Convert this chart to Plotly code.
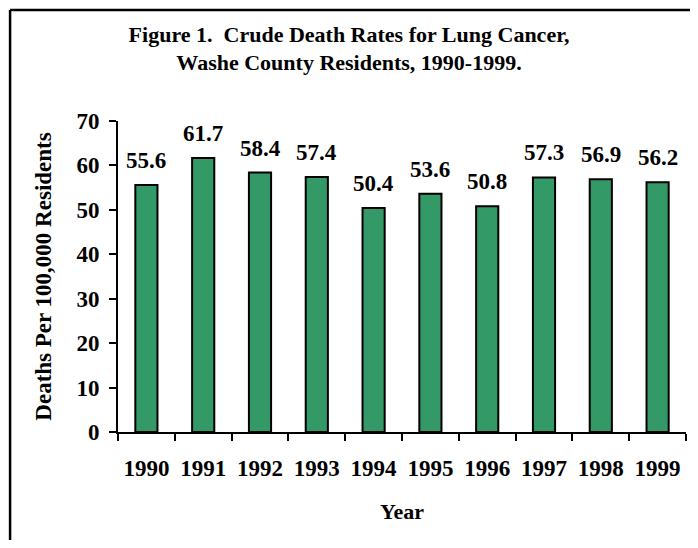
# Crude death rates for lung cancer, Washoe County, 1990-1999
import plotly.graph_objects as go

years = ["1990", "1991", "1992", "1993", "1994", "1995", "1996", "1997", "1998", "1999"]
rates = [55.6, 61.7, 58.4, 57.4, 50.4, 53.6, 50.8, 57.3, 56.9, 56.2]

font_family = "Liberation Serif, Times New Roman, serif"
bar_green = "#339966"
fsize = 23

fig = go.Figure()
fig.add_trace(
    go.Bar(
        x=years,
        y=rates,
        width=0.39,
        marker=dict(color=bar_green, line=dict(color="black", width=2)),
        hoverinfo="x+y",
    )
)

# value labels above each bar (category axis -> index positions)
for i, v in enumerate(rates):
    fig.add_annotation(
        x=i, y=v, xref="x", yref="y", text=f"<b>{v:.1f}</b>",
        showarrow=False, yanchor="bottom", yshift=10,
        font=dict(family=font_family, size=fsize, color="black"),
    )

# frame (only top and left edges show in the window)
fig.add_shape(type="line", xref="paper", yref="paper",
              x0=-0.19, x1=1.2, y0=1.357, y1=1.357,
              line=dict(color="black", width=2.5))
fig.add_shape(type="line", xref="paper", yref="paper",
              x0=-0.19, x1=-0.19, y0=1.357, y1=-0.6,
              line=dict(color="black", width=2.5))

fig.update_layout(
    width=682,
    height=532,
    margin=dict(l=110, r=4, t=113, b=108),
    paper_bgcolor="white",
    plot_bgcolor="white",
    showlegend=False,
    font=dict(family=font_family, color="black", size=fsize),
    title=dict(
        text="<b>Figure 1.  Crude Death Rates for Lung Cancer,<br>Washe County Residents, 1990-1999.</b>",
        x=0.5, xanchor="center", y=0.937, yanchor="middle",
        font=dict(family=font_family, size=22, color="black"),
    ),
    xaxis=dict(
        type="category",
        range=[-0.5, 9.5],
        showline=True, linecolor="black", linewidth=2,
        ticks="outside", tickson="boundaries", ticklen=7, tickwidth=2, tickcolor="black",
        tickfont=dict(family=font_family, size=fsize),
        tickprefix="<b>", ticksuffix="</b>",
        ticklabelstandoff=14,
        title=dict(text="<b>Year</b>", font=dict(family=font_family, size=22), standoff=24),
        showgrid=False,
    ),
    yaxis=dict(
        range=[0, 70], dtick=10,
        showline=True, linecolor="black", linewidth=2,
        ticks="outside", ticklen=7, tickwidth=2, tickcolor="black",
        tickfont=dict(family=font_family, size=fsize),
        tickprefix="<b>", ticksuffix="</b>",
        ticklabelstandoff=5,
        title=dict(text="<b>Deaths Per 100,000 Residents</b>", font=dict(family=font_family, size=fsize), standoff=18),
        showgrid=False, zeroline=False,
    ),
)

fig.write_html("out.html")
